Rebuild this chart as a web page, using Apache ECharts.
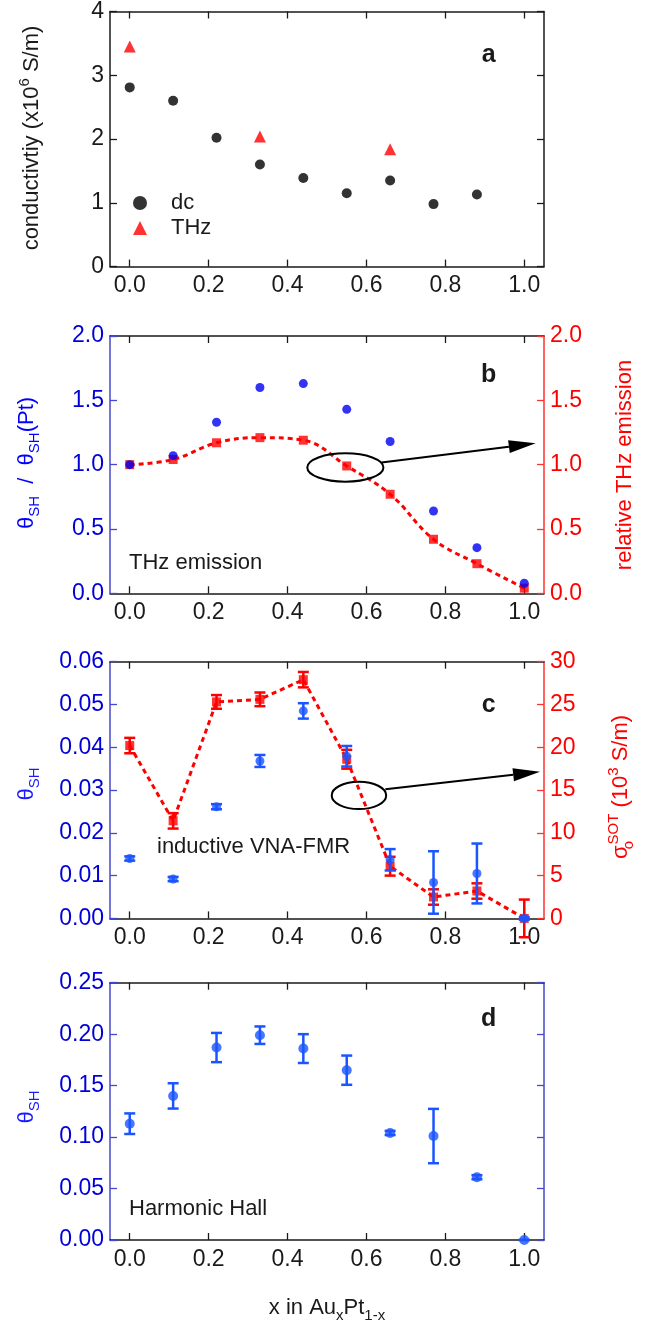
<!DOCTYPE html>
<html><head><meta charset="utf-8">
<script src="https://cdn.jsdelivr.net/npm/echarts@6/dist/echarts.min.js"></script>
<style>html,body{margin:0;padding:0;background:#fff}#c{width:665px;height:1324px}</style>
</head><body><div id="c"></div>
<script>
// ---- data ----
const xComp = [0, 0.11, 0.22, 0.33, 0.44, 0.55, 0.66, 0.77, 0.88, 1.0];
const xTicks = [0, 0.2, 0.4, 0.6, 0.8, 1.0];
// panel a
const dcX = [0, 0.11, 0.22, 0.33, 0.44, 0.55, 0.66, 0.77, 0.88];
const dcVals = [2.81, 2.60, 2.02, 1.60, 1.39, 1.15, 1.35, 0.98, 1.13];
const thzX = [0, 0.33, 0.66];
const thzVals = [3.45, 2.04, 1.84];
// panel b
const thetaRatioB = [1.00, 1.07, 1.33, 1.60, 1.63, 1.43, 1.18, 0.64, 0.355, 0.078];
const relTHzB = [1.00, 1.04, 1.17, 1.21, 1.19, 0.99, 0.77, 0.42, 0.23, 0.04];
// panel c
const thetaC = [0.0140, 0.0092, 0.0261, 0.0368, 0.0485, 0.0379, 0.0137, 0.0084, 0.0105, 0.0];
const thetaCErr = [0.0005, 0.0005, 0.0006, 0.0014, 0.0018, 0.0024, 0.0025, 0.0073, 0.0070, 0.0003];
const sigmaC = [20.2, 11.4, 25.3, 25.6, 27.9, 18.6, 6.1, 2.5, 3.2, 0.0];
const sigmaCErr = [0.9, 0.9, 0.8, 0.8, 0.9, 1.1, 1.1, 0.9, 0.9, 2.2];
// panel d
const thetaD = [0.113, 0.140, 0.187, 0.199, 0.186, 0.165, 0.104, 0.101, 0.061, 0.0];
const thetaDErr = [0.010, 0.0123, 0.0142, 0.0085, 0.014, 0.0142, 0.002, 0.0264, 0.002, 0.0];

// ---- style ----
const FONT = "'Liberation Sans', Arial, sans-serif";
const BLK = '#1a1a1a';
const RED = '#ff0000';
const BLUE_B = '#0000f2';
const BLUE_C = '#1a55ff';
const BLUE_LBL = '#0000d8';
const BLUE_AX = '#4848cc';
const TICK_FS = 23;

const gridPos = [
  {top: 9.3, height: 257.3},
  {top: 336, height: 257.3},
  {top: 661.7, height: 256.7},
  {top: 982.7, height: 257.3}
];

function xAx(g, pos) {
  return {
    type: 'value', gridIndex: g, position: pos, min: -0.05, max: 1.05,
    axisLine: {show: true, onZero: false, lineStyle: {color: BLK, width: 1.5}},
    axisTick: {show: true, inside: true, length: 7, customValues: xTicks, lineStyle: {color: BLK, width: 1.3}},
    axisLabel: {show: pos === 'bottom', customValues: xTicks, formatter: v => v.toFixed(1),
      fontSize: TICK_FS, fontFamily: FONT, color: BLK, margin: 8},
    splitLine: {show: false}
  };
}
function yAx(g, pos, min, max, interval, lineColor, labelColor, showLabel, dec) {
  return {
    type: 'value', gridIndex: g, position: pos, min: min, max: max, interval: interval,
    axisLine: {show: true, onZero: false, lineStyle: {color: lineColor, width: 1.5}},
    axisTick: {show: true, inside: true, length: 7, lineStyle: {color: lineColor, width: 1.3}},
    axisLabel: {show: showLabel, formatter: v => v.toFixed(dec), fontSize: TICK_FS, fontFamily: FONT,
      color: labelColor, margin: 6},
    splitLine: {show: false}
  };
}
function pairs(xs, ys) { return xs.map((x, i) => [x, ys[i]]); }
function errSeries(xs, ys, es, xi, yi, color, capW, lw, z) {
  return {
    type: 'custom', xAxisIndex: xi, yAxisIndex: yi, z: z, silent: true,
    data: xs.map((x, i) => [x, ys[i] - es[i], ys[i] + es[i]]),
    encode: {x: 0, y: [1, 2]},
    renderItem: (params, api) => {
      const x = api.value(0), lo = api.value(1), hi = api.value(2);
      const p1 = api.coord([x, lo]), p2 = api.coord([x, hi]);
      const h = capW / 2;
      const st = {stroke: color, lineWidth: lw};
      return {type: 'group', children: [
        {type: 'line', shape: {x1: p1[0], y1: p1[1], x2: p2[0], y2: p2[1]}, style: st},
        {type: 'line', shape: {x1: p1[0] - h, y1: p1[1], x2: p1[0] + h, y2: p1[1]}, style: st},
        {type: 'line', shape: {x1: p2[0] - h, y1: p2[1], x2: p2[0] + h, y2: p2[1]}, style: st}
      ]};
    }
  };
}

const chart = echarts.init(document.getElementById('c'), null, {renderer: 'canvas'});

const option = {
  animation: false,
  backgroundColor: '#fff',
  grid: gridPos.map(g => ({left: 110, width: 434, top: g.top, height: g.height})),
  xAxis: [
    xAx(0, 'bottom'), xAx(1, 'bottom'), xAx(2, 'bottom'), xAx(3, 'bottom'),
    xAx(0, 'top'), xAx(1, 'top'), xAx(2, 'top'), xAx(3, 'top')
  ],
  yAxis: [
    yAx(0, 'left', 0, 4, 1, BLK, BLK, true, 0),
    yAx(1, 'left', 0, 2, 0.5, BLUE_AX, BLUE_LBL, true, 1),
    yAx(2, 'left', 0, 0.06, 0.01, BLUE_AX, BLUE_LBL, true, 2),
    yAx(3, 'left', 0, 0.25, 0.05, BLUE_AX, BLUE_LBL, true, 2),
    yAx(0, 'right', 0, 4, 1, BLK, BLK, false, 0),
    yAx(1, 'right', 0, 2, 0.5, '#ff3030', RED, true, 1),
    yAx(2, 'right', 0, 30, 5, '#ff3030', RED, true, 0),
    yAx(3, 'right', 0, 0.25, 0.05, BLUE_AX, BLUE_LBL, false, 2)
  ],
  legend: {
    data: ['dc', 'THz'], orient: 'vertical', left: 128, top: 187,
    itemWidth: 14, itemHeight: 14, itemGap: 3,
    textStyle: {fontSize: 22, fontFamily: FONT, color: BLK, padding: [0, 0, 0, 19]}
  },
  series: [
    // 0,1 panel a
    {name: 'dc', type: 'scatter', xAxisIndex: 0, yAxisIndex: 0, symbol: 'circle', symbolSize: 10,
      itemStyle: {color: '#000'}, data: pairs(dcX, dcVals)},
    {name: 'THz', type: 'scatter', xAxisIndex: 0, yAxisIndex: 0, symbol: 'triangle', symbolSize: 12,
      itemStyle: {color: RED}, data: pairs(thzX, thzVals)},
    // 2,3,4 panel b
    {type: 'line', xAxisIndex: 1, yAxisIndex: 5, smooth: 0.4, showSymbol: false, z: 2,
      lineStyle: {color: RED, width: 3, type: [5, 4]}, data: pairs(xComp, relTHzB)},
    {type: 'scatter', xAxisIndex: 1, yAxisIndex: 5, symbol: 'rect', symbolSize: 9, z: 3,
      itemStyle: {color: RED}, data: pairs(xComp, relTHzB)},
    {type: 'scatter', xAxisIndex: 1, yAxisIndex: 1, symbol: 'circle', symbolSize: 9, z: 4,
      itemStyle: {color: BLUE_B}, data: pairs(xComp, thetaRatioB)},
    // 5..9 panel c
    {type: 'line', xAxisIndex: 2, yAxisIndex: 6, showSymbol: false, z: 2,
      lineStyle: {color: RED, width: 3, type: [5, 4]}, data: pairs(xComp, sigmaC)},
    errSeries(xComp, sigmaC, sigmaCErr, 2, 6, RED, 11, 2.5, 3),
    {type: 'scatter', xAxisIndex: 2, yAxisIndex: 6, symbol: 'rect', symbolSize: 9, z: 4,
      itemStyle: {color: RED}, data: pairs(xComp, sigmaC)},
    errSeries(xComp, thetaC, thetaCErr, 2, 2, BLUE_C, 11, 2.5, 5),
    {type: 'scatter', xAxisIndex: 2, yAxisIndex: 2, symbol: 'circle', symbolSize: 9, z: 6,
      itemStyle: {color: BLUE_C}, data: pairs(xComp, thetaC)},
    // 10,11 panel d
    errSeries(xComp, thetaD, thetaDErr, 3, 3, BLUE_C, 11, 2.5, 5),
    {type: 'scatter', xAxisIndex: 3, yAxisIndex: 3, symbol: 'circle', symbolSize: 10, z: 6,
      itemStyle: {color: BLUE_C}, data: pairs(xComp, thetaD)}
  ]
};
chart.setOption(option);

// ---- annotations (positions from data coordinates through the chart scales) ----
const P = (si, pt) => chart.convertToPixel({seriesIndex: si}, pt);
function ellipseFromBox(si, x0, y0, x1, y1) {
  const a = P(si, [x0, y0]), b = P(si, [x1, y1]);
  return {type: 'ellipse', z: 50,
    shape: {cx: (a[0] + b[0]) / 2, cy: (a[1] + b[1]) / 2, rx: Math.abs(b[0] - a[0]) / 2, ry: Math.abs(b[1] - a[1]) / 2},
    style: {fill: 'none', stroke: '#000', lineWidth: 2}};
}
function arrow(si, s, e, headL, headW) {
  const a = P(si, s), b = P(si, e);
  const dx = b[0] - a[0], dy = b[1] - a[1], L = Math.hypot(dx, dy);
  const ux = dx / L, uy = dy / L, nx = -uy, ny = ux;
  const bx = b[0] - ux * headL, by = b[1] - uy * headL;
  return [
    {type: 'line', z: 50, shape: {x1: a[0], y1: a[1], x2: bx, y2: by}, style: {stroke: '#000', lineWidth: 2}},
    {type: 'polygon', z: 50, shape: {points: [[b[0], b[1]], [bx + nx * headW / 2, by + ny * headW / 2], [bx - nx * headW / 2, by - ny * headW / 2]]},
      style: {fill: '#000'}}
  ];
}
function txt(x, y, text, opt) {
  return Object.assign({type: 'text', x: x, y: y, z: 60,
    style: Object.assign({text: text, font: '22px ' + FONT, fill: BLK, align: 'left', verticalAlign: 'middle'}, opt || {})});
}
function vtxt(x, y, text, color, rich) {
  return {type: 'text', x: x, y: y, rotation: Math.PI / 2, z: 60,
    style: {text: text, fontSize: 22, fontFamily: FONT, fill: color, align: 'center', verticalAlign: 'middle', rich: rich}};
}
const richSub = (color) => ({
  m: {fontSize: 22, fontFamily: FONT, fill: color, color: color, lineHeight: 30, verticalAlign: 'middle'},
  s: {fontSize: 15, fontFamily: FONT, fill: color, color: color, lineHeight: 15, verticalAlign: 'bottom'},
  u: {fontSize: 15, fontFamily: FONT, fill: color, color: color, lineHeight: 15, verticalAlign: 'top'},
  o: {fontSize: 15, fontFamily: FONT, fill: color, color: color, lineHeight: 15, verticalAlign: 'bottom', width: 1}
});

const graphics = [];
// panel letters
graphics.push(txt(488.6, 55, 'a', {font: 'bold 25px ' + FONT, align: 'center'}));
graphics.push(txt(488.6, 375, 'b', {font: 'bold 25px ' + FONT, align: 'center'}));
graphics.push(txt(488.6, 705, 'c', {font: 'bold 25px ' + FONT, align: 'center'}));
graphics.push(txt(488.6, 1019, 'd', {font: 'bold 25px ' + FONT, align: 'center'}));
// panel descriptions
graphics.push(txt(129, 563, 'THz emission'));
graphics.push(txt(157, 847, 'inductive VNA-FMR'));
graphics.push(txt(129, 1209, 'Harmonic Hall'));
// axis titles
graphics.push(vtxt(32, 138, '{m|conductivtiy (x10}{u|6}{m| S/m)}', BLK, richSub(BLK)));
graphics.push(vtxt(27, 463, '{m|θ}{s|SH}{m|  /  θ}{s|SH}{m|(Pt)}', '#0000ff', richSub('#0000ff')));
graphics.push(vtxt(625, 465, '{m|relative THz emission}', RED, richSub(RED)));
graphics.push(vtxt(27, 784, '{m|θ}{s|SH}', '#1a1aff', richSub('#1a1aff')));
graphics.push(vtxt(621, 787, '{m|σ}{o|o}{u|SOT}{m| (10}{u|3}{m| S/m)}', RED, richSub(RED)));
graphics.push(vtxt(27, 1107, '{m|θ}{s|SH}', '#1a1aff', richSub('#1a1aff')));
graphics.push({type: 'text', x: 327, y: 1308, z: 60,
  style: {text: '{m|x in Au}{s|x}{m|Pt}{s|1-x}', align: 'center', verticalAlign: 'middle', rich: richSub(BLK)}});
// ellipses + arrows
graphics.push(ellipseFromBox(4, 0.450, 0.868, 0.643, 1.088));
arrow(4, [0.638, 1.016], [1.029, 1.166], 27, 13).forEach(g => graphics.push(g));
graphics.push(ellipseFromBox(7, 0.512, 12.78, 0.650, 15.97));
arrow(7, [0.648, 15.08], [1.040, 17.14], 27, 13).forEach(g => graphics.push(g));

chart.setOption({graphic: graphics});
</script>
</body></html>
